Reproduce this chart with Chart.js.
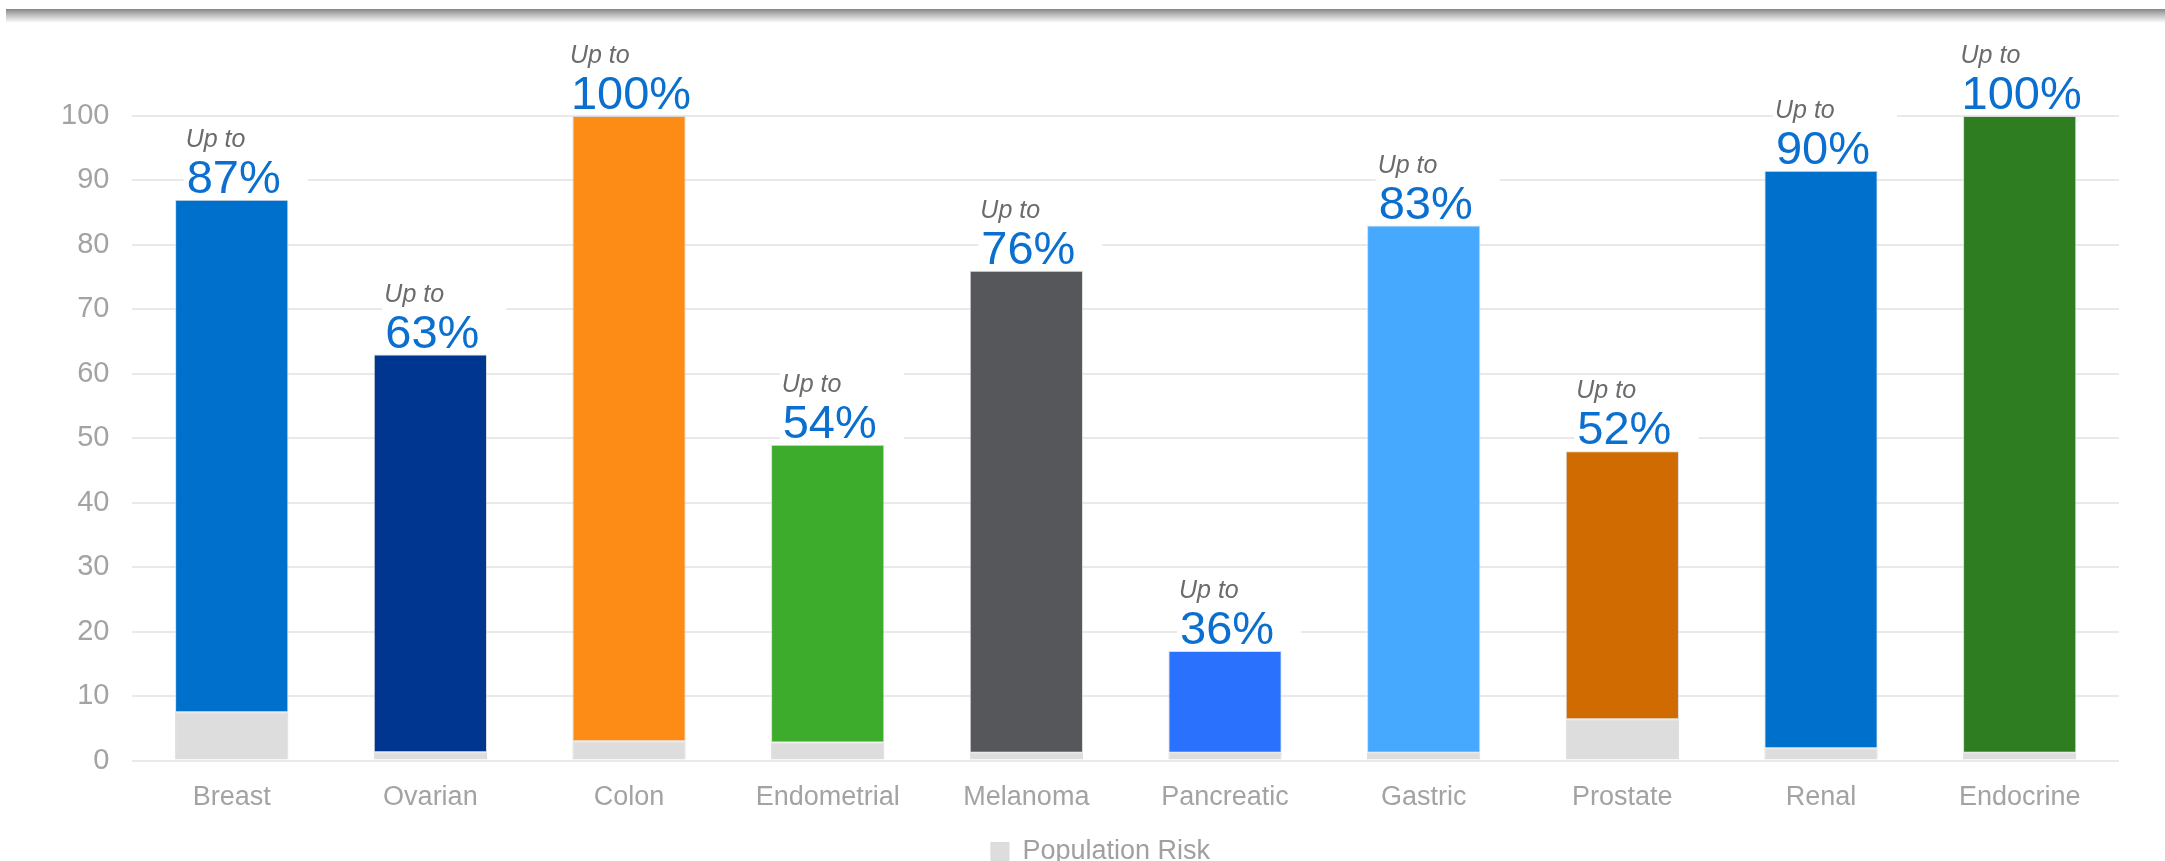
<!DOCTYPE html>
<html>
<head>
<meta charset="utf-8">
<script src="https://cdn.jsdelivr.net/npm/chart.js@4.4.1/dist/chart.umd.min.js"></script>
<style>
  html, body { margin: 0; padding: 0; background: #ffffff; }
  #wrap { position: relative; width: 2165px; height: 861px; }
  #topband { position: absolute; left: 6px; right: 0; top: 9px; height: 14px;
    background: linear-gradient(to bottom, #858585 0%, #a8a8a8 25%, #d8d8d8 65%, #ffffff 100%); }
</style>
</head>
<body>
<div id="wrap">
  <div id="topband"></div>
  <canvas id="c" width="2165" height="861"></canvas>
</div>
<script>
// ---- data ----
const categories = ["Breast", "Ovarian", "Colon", "Endometrial", "Melanoma", "Pancreatic", "Gastric", "Prostate", "Renal", "Endocrine"];
const populationRisk = [7.5, 1.3, 3.0, 2.8, 1.2, 1.2, 1.2, 6.4, 1.9, 1.2];
const syndromeRiskTop = [87, 63, 100, 49, 76, 17, 83, 48, 91.5, 100];
const riskLabels = ["87%", "63%", "100%", "54%", "76%", "36%", "83%", "52%", "90%", "100%"];
const yTicks = [0, 10, 20, 30, 40, 50, 60, 70, 80, 90, 100];

const barColors = ["#0070cd", "#00368f", "#fd8c16", "#3dab2b", "#55575b", "#2a71fe", "#47a9fe", "#cf6b00", "#0070cd", "#2f7d21"];
const popColor = "#dcdddc";
const FONT = "'Liberation Sans', Arial, sans-serif";

const labelPlugin = {
  id: 'upToLabels',
  afterLayout(chart) {
    // the reference legend sits a little right of the canvas centre
    if (chart.legend) { chart.legend.left += 22; chart.legend.right += 22; }
  },
  afterDatasetsDraw(chart) {
    const ctx = chart.ctx;
    const meta = chart.getDatasetMeta(1);
    ctx.save();
    meta.data.forEach((el, i) => {
      const pctFont = "47px " + FONT;
      const upFont = "italic 25px " + FONT;
      ctx.font = pctFont;
      const pw = ctx.measureText(riskLabels[i]).width;
      ctx.font = upFont;
      const uw = ctx.measureText("Up to").width;
      const left = el.x - pw / 2 + 2;
      const pctBase = el.y - 7;
      const pctTop = pctBase - 34;
      const upBase = pctTop - 12;
      const upTop = upBase - 18;
      // white box behind the label (interrupts gridlines as in the reference)
      ctx.fillStyle = "#ffffff";
      ctx.fillRect(left - 3, upTop - 3, Math.max(pw, uw) + 30, pctBase - upTop + 5);
      ctx.textAlign = "left";
      ctx.textBaseline = "alphabetic";
      ctx.fillStyle = "#6b6b6b";
      ctx.font = upFont;
      ctx.fillText("Up to", left - 1, upBase);
      ctx.fillStyle = "#0a6fcf";
      ctx.font = pctFont;
      ctx.fillText(riskLabels[i], left, pctBase);
    });
    ctx.restore();
  }
};

new Chart(document.getElementById('c'), {
  type: 'bar',
  data: {
    labels: categories,
    datasets: [
      {
        label: "Population Risk",
        data: populationRisk,
        backgroundColor: popColor,
        borderColor: "rgba(215,215,215,0.9)",
        borderWidth: 1,
        barPercentage: 0.57,
        categoryPercentage: 1.0,
        order: 2
      },
      {
        label: "Syndrome Risk",
        data: categories.map((c, i) => [populationRisk[i], syndromeRiskTop[i]]),
        backgroundColor: barColors,
        borderColor: "rgba(205,205,205,0.7)",
        borderWidth: 1,
        borderSkipped: false,
        barPercentage: 0.57,
        categoryPercentage: 1.0,
        order: 1
      }
    ]
  },
  options: {
    responsive: false,
    animation: false,
    layout: { padding: { top: 116, left: 38, right: 46, bottom: -14 } },
    scales: {
      x: {
        stacked: true,
        grid: { display: false, drawTicks: false },
        border: { display: false },
        ticks: { color: "#a3a3a3", font: { family: FONT, size: 27 }, padding: 21 }
      },
      y: {
        stacked: false,
        min: 0, max: 100,
        afterBuildTicks(axis) { axis.ticks = yTicks.map(v => ({ value: v })); },
        grid: { color: "#e9e9e9", lineWidth: 2, drawTicks: false },
        border: { display: false },
        ticks: { color: "#a3a3a3", font: { family: FONT, size: 29 }, padding: 23 }
      }
    },
    plugins: {
      legend: {
        position: 'bottom',
        labels: {
          filter: (item) => item.datasetIndex === 0,
          color: "#a0a0a0",
          font: { family: FONT, size: 27 },
          boxWidth: 18, boxHeight: 18,
          padding: 3
        }
      },
      tooltip: { enabled: false },
      title: { display: false }
    }
  },
  plugins: [labelPlugin]
});
</script>
</body>
</html>
